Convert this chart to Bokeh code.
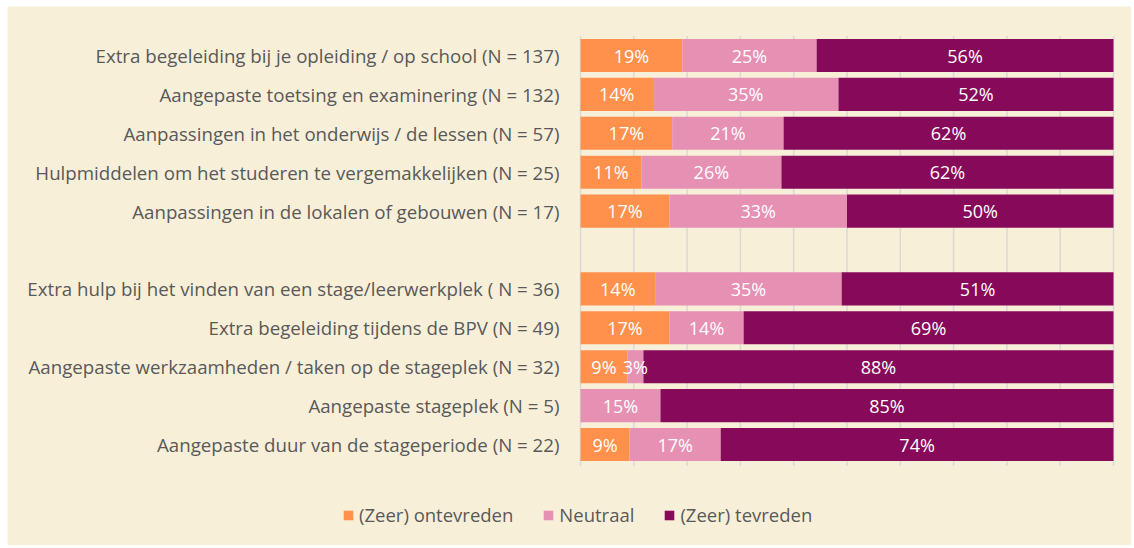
from bokeh.plotting import figure
from bokeh.models import ColumnDataSource, Legend, LegendItem
from bokeh.core.properties import value
from bokeh.embed import file_html
from bokeh.resources import INLINE

categories = [
    "Extra begeleiding bij je opleiding / op school (N = 137)",
    "Aangepaste toetsing en examinering (N = 132)",
    "Aanpassingen in het onderwijs / de lessen (N = 57)",
    "Hulpmiddelen om het studeren te vergemakkelijken (N = 25)",
    "Aanpassingen in de lokalen of gebouwen (N = 17)",
    "",
    "Extra hulp bij het vinden van een stage/leerwerkplek ( N = 36)",
    "Extra begeleiding tijdens de BPV (N = 49)",
    "Aangepaste werkzaamheden / taken op de stageplek (N = 32)",
    "Aangepaste stageplek (N = 5)",
    "Aangepaste duur van de stageperiode (N = 22)",
]
ontevreden = [19.1, 13.6, 17.2, 11.4, 16.7, None, 14.0, 16.7, 8.8, 0.0, 9.2]
neutraal   = [25.2, 34.8, 20.9, 26.3, 33.3, None, 35.0, 13.9, 3.0, 15.0, 17.1]
tevreden   = [55.7, 51.6, 61.9, 62.3, 50.0, None, 51.0, 69.4, 88.2, 85.0, 73.7]
series_names = ["(Zeer) ontevreden", "Neutraal", "(Zeer) tevreden"]
colors = ["#FF914D", "#E690B4", "#870A5A"]
x_ticks = list(range(0, 101, 10))

BG = "#F8EFD9"
FONT = "Open Sans"
W, H = 1124, 539
PLOT_LEFT, PLOT_RIGHT = 573, 1106      # pixel positions of 0% and 100%
ROW_TOP, ROW_BOTTOM = 49, 438          # pixel centres of first and last row

n = len(categories)
ypos = [n - i for i in range(n)]

sx = (PLOT_RIGHT - PLOT_LEFT) / 100.0
x0 = -PLOT_LEFT / sx
x1 = 100 + (W - PLOT_RIGHT) / sx
sy = (ROW_BOTTOM - ROW_TOP) / (n - 1)
y1 = n + ROW_TOP / sy
y0 = 1 - (H - ROW_BOTTOM) / sy

p = figure(width=W, height=H, output_backend="svg", toolbar_location=None,
           x_range=(x0, x1), y_range=(y0, y1), min_border=0,
           margin=(6, 0, 0, 7))
p.background_fill_color = BG
p.border_fill_color = BG
p.outline_line_color = None
p.axis.visible = False
p.grid.visible = False

# gridlines
p.segment(x0=x_ticks, x1=x_ticks, y0=[0.45] * len(x_ticks), y1=[n + 0.5] * len(x_ticks),
          line_color="#D9D9D9", line_width=1.5)

series = [ontevreden, neutraal, tevreden]
renderers = []
left = [0.0] * n
bx, by, bl = [], [], []
for k, vals in enumerate(series):
    ys, ls, rs = [], [], []
    for i in range(n):
        v = vals[i]
        if v is None:
            continue
        ys.append(ypos[i])
        ls.append(left[i])
        rs.append(left[i] + v)
        if v > 0:
            bx.append(left[i] + v / 2)
            by.append(ypos[i])
            bl.append(f"{round(v)}%")
        left[i] += v
    src = ColumnDataSource(dict(y=ys, left=ls, right=rs))
    r = p.hbar(y="y", left="left", right="right", height=0.85, source=src,
               fill_color=colors[k], line_color=None)
    renderers.append(r)

p.text(x=bx, y=by, text=bl, text_color="white", text_font=value(FONT),
       text_font_size="18px", text_align="center", text_baseline="middle")

# category labels
lab_y = [ypos[i] for i in range(n) if categories[i]]
lab_t = [c for c in categories if c]
p.text(x=[0] * len(lab_t), y=lab_y, text=lab_t, x_offset=-21,
       text_color="#595959", text_font=value(FONT), text_font_size="18.7px",
       text_align="right", text_baseline="middle")

legend = Legend(items=[LegendItem(label=series_names[k], renderers=[renderers[k]]) for k in range(3)],
                orientation="horizontal", location=(335, 18),
                background_fill_alpha=0, border_line_color=None,
                label_text_font=FONT, label_text_font_size="18.5px",
                label_text_color="#595959", glyph_width=12, glyph_height=12,
                spacing=29, label_standoff=5, padding=0, margin=0)
p.add_layout(legend, "center")

open("out.html", "w").write(file_html(p, INLINE))
